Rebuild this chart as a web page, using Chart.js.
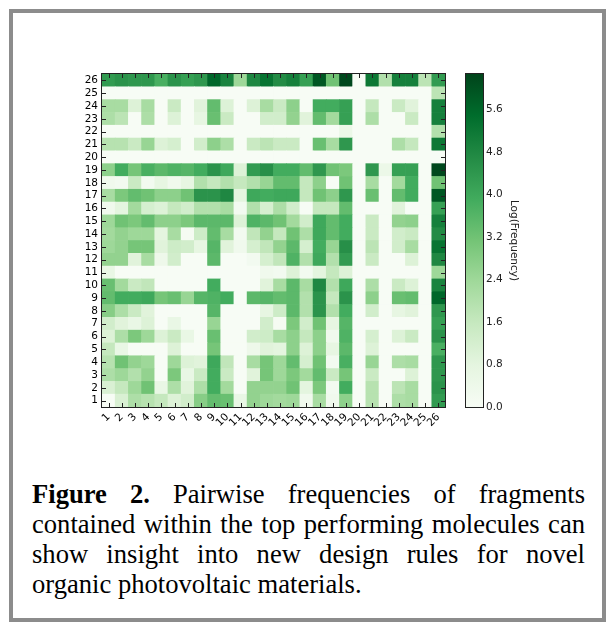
<!DOCTYPE html>
<html>
<head>
<meta charset="utf-8">
<script src="https://cdn.jsdelivr.net/npm/chart.js@4.4.1/dist/chart.umd.min.js"></script>
<style>
  html, body { margin: 0; padding: 0; background: #fff; }
  body { width: 611px; height: 626px; position: relative; overflow: hidden; }
  #frame { position: absolute; left: 9px; top: 9px; width: 589px; height: 605px; border: 4px solid #8c8c8c; }
  #heat { position: absolute; left: 0; top: 0; }
  #bar { position: absolute; left: 440px; top: 0; }
  #caption { position: absolute; left: 32px; top: 479px; width: 553px;
    font-family: 'Liberation Serif', 'Times New Roman', serif; font-size: 26.6px; line-height: 30px; color: #000; }
  #caption div { text-align: justify; text-align-last: justify; white-space: nowrap; }
  #caption div.last { text-align-last: left; }
</style>
</head>
<body>
<div id="frame"></div>
<canvas id="heat" width="460" height="440"></canvas>
<canvas id="bar" width="171" height="440"></canvas>
<div id="caption">
  <div><b>Figure 2.</b> Pairwise frequencies of fragments</div>
  <div>contained within the top performing molecules can</div>
  <div>show insight into new design rules for novel</div>
  <div class="last">organic photovoltaic materials.</div>
</div>
<script>
// fragment ids, both axes
const fragments = ['1','2','3','4','5','6','7','8','9','10','11','12','13',
  '14','15','16','17','18','19','20','21','22','23','24','25','26'];

// Log(Frequency), one row per fragment (row 1 = bottom), columns 1..26
const logFreq = [
  [0,1.1,2.1,1.9,1.6,1.0,1.3,2.8,3.4,3.3,0.6,2.6,2.4,2.3,2.4,0.3,2.2,0.3,2.7,0,1.9,0,2.1,2.2,0,4.3],
  [1.1,1.6,2.4,3.2,0.6,2.1,0.9,2.1,3.9,2.3,0,2.6,2.6,2.6,3.2,0.8,3.0,0.2,3.9,0,1.9,0,1.8,2.2,0,4.5],
  [2.1,2.4,2.0,2.6,0,3.0,0.6,1.5,3.9,1.5,0,0.9,3.1,2.4,3.0,2.3,3.4,1.5,3.1,0,1.5,0,0,1.0,0,4.4],
  [1.9,3.2,2.6,2.4,0,2.4,1.0,0.9,4.0,1.7,0,2.2,3.1,2.4,3.4,1.2,3.2,0.2,3.8,0,2.5,0,2.1,2.2,0,4.4],
  [1.6,0.6,0,0,0,1.0,0,0,3.1,0,0,0.4,0.9,0.8,2.7,1.0,2.7,0.7,3.5,0,1.0,0,0,0,0,3.8],
  [1.0,2.1,3.0,2.4,1.0,1.5,0.6,0,3.3,0,0,1.3,1.4,2.2,2.7,1.6,2.7,0.3,3.7,0,1.2,0,1.0,1.5,0,4.5],
  [1.3,0.9,0.6,1.0,0,0.6,0,0,2.5,0,0,0,1.3,0.1,3.0,1.3,3.2,0.7,3.6,0,0,0,0,0,0,4.2],
  [2.8,2.1,1.5,0.9,0,0,0,0,3.6,0,0,0,0.7,1.4,3.5,2.0,4.5,2.0,3.9,0,1.3,0,0.7,0.9,0,4.4],
  [3.4,3.9,3.9,4.0,3.1,3.3,2.5,3.6,3.7,3.9,0,3.5,3.6,3.4,3.5,2.0,4.5,1.6,4.5,0,2.7,0,3.3,3.4,0,5.6],
  [3.3,2.3,1.5,1.7,0,0,0,0,3.9,0,0,0,0.9,2.2,3.5,2.2,4.8,2.0,4.0,0,2.1,0,1.5,1.0,0,4.9],
  [0.6,0,0,0,0,0,0,0,0,0,0,0,0.3,0.2,1.0,0.2,0.8,1.6,1.0,0,0,0,0,0,0,2.4],
  [2.6,2.6,0.9,2.2,0.4,1.3,0,0,3.5,0,0,0.2,1.2,1.7,3.7,2.0,4.0,2.0,4.3,0,1.5,0,0,1.0,0,4.8],
  [2.4,2.6,3.1,3.1,0.9,1.4,1.3,0.7,3.6,0.9,0.3,1.2,1.7,2.6,3.5,1.2,3.9,2.5,4.6,0,1.8,0,1.3,2.2,0,5.3],
  [2.3,2.6,2.4,2.4,0.8,2.2,0.1,1.4,3.4,2.2,0.2,1.7,2.6,1.6,3.2,2.1,4.0,3.4,3.9,0,1.5,0,1.3,1.5,0,4.7],
  [2.4,3.2,3.0,3.4,2.7,2.7,3.0,3.5,3.5,3.5,1.0,3.7,3.5,3.2,2.3,1.3,4.0,3.4,3.9,0,1.5,0,2.6,2.7,0,5.0],
  [0.3,0.8,2.3,1.2,1.0,1.6,1.3,2.0,2.0,2.2,0.2,2.0,1.2,2.1,1.3,0,1.6,1.6,3.4,0,0,0,0.9,0,0,4.2],
  [2.2,3.0,3.4,3.2,2.7,2.7,3.2,4.5,4.5,4.8,0.8,4.0,3.9,4.0,4.0,1.6,3.2,2.7,4.4,0,3.3,0,3.4,3.9,0,5.9],
  [0.3,0.2,1.5,0.2,0.7,0.3,0.7,2.0,1.6,2.0,1.6,2.0,2.5,3.4,3.4,1.6,2.7,0,3.2,0,2.2,0,2.3,3.9,0,3.2],
  [2.7,3.9,3.1,3.8,3.5,3.7,3.6,3.9,4.5,4.0,1.0,4.3,4.6,3.9,3.9,3.4,4.4,3.2,3.0,0,4.4,0.5,4.2,4.2,0,6.2],
  [0,0,0,0,0,0,0,0,0,0,0,0,0,0,0,0,0,0,0,0,0,0,0,0,0,0],
  [1.9,1.9,1.5,2.5,1.0,1.2,0,1.3,2.7,2.1,0,1.5,1.8,1.5,1.5,0,3.3,2.2,4.4,0,0,0,2.1,1.6,0,5.2],
  [0,0,0,0,0,0,0,0,0,0,0,0,0,0,0,0,0,0,0.5,0,0,0,0,0,0,2.0],
  [2.1,1.8,0,2.1,0,1.0,0,0.7,3.3,1.5,0,0,1.3,1.3,2.6,0.9,3.4,2.3,4.2,0,2.1,0,0,1.5,0,5.0],
  [2.2,2.2,1.0,2.2,0,1.5,0,0.9,3.4,1.0,0,1.0,2.2,1.5,2.7,0,3.9,3.9,4.2,0,1.6,0,1.5,0.9,0,5.0],
  [0,0,0,0,0,0,0,0,0,0,0,0,0,0,0,0,0,0,0,0,0,0,0,0,0,1.8],
  [4.3,4.5,4.4,4.4,3.8,4.5,4.2,4.4,5.6,4.9,2.4,4.8,5.3,4.7,5.0,4.2,5.9,3.2,6.2,0,5.2,2.0,5.0,5.0,1.8,4.3]
];

const vmax = 6.27;
const colorbarTicks = [0, 0.8, 1.6, 2.4, 3.2, 4.0, 4.8, 5.6];

// matplotlib "Greens"
const greens = ['#f7fcf5','#e5f5e0','#c7e9c0','#a1d99b','#74c476','#41ab5d','#238b45','#006d2c','#00441b'];

function rgb(h) {
  return [1, 3, 5].map(i => parseInt(h.slice(i, i + 2), 16));
}
function greenColor(v) {
  const t = Math.max(0, Math.min(1, v / vmax)) * (greens.length - 1);
  const i = Math.min(greens.length - 2, Math.floor(t));
  const f = t - i;
  const a = rgb(greens[i]), b = rgb(greens[i + 1]);
  const c = a.map((x, k) => Math.round(x + (b[k] - x) * f));
  return 'rgb(' + c.join(',') + ')';
}

Chart.defaults.font.family = 'DejaVu Sans';
Chart.defaults.font.size = 10.5;
Chart.defaults.color = '#000';

// black box round the plot area, matplotlib-like inward ticks
const framePlugin = {
  id: 'frame',
  afterDraw(chart, args, opts) {
    const { ctx, chartArea: a } = chart;
    ctx.save();
    ctx.strokeStyle = '#222';
    ctx.lineWidth = 1;
    ctx.strokeRect(a.left - 0.5, a.top - 0.5, a.right - a.left + 1, a.bottom - a.top + 1);
    if (opts.ticks) {
      const xs = chart.scales.x, ys = chart.scales.y;
      ctx.beginPath();
      xs.ticks.forEach((t, i) => {
        const px = Math.round(xs.getPixelForTick(i)) + 0.5;
        ctx.moveTo(px, a.bottom); ctx.lineTo(px, a.bottom - 4);
        ctx.moveTo(px, a.top); ctx.lineTo(px, a.top + 4);
      });
      ys.ticks.forEach((t, i) => {
        const py = Math.round(ys.getPixelForTick(i)) + 0.5;
        ctx.moveTo(a.left, py); ctx.lineTo(a.left + 4, py);
        ctx.moveTo(a.right, py); ctx.lineTo(a.right - 4, py);
      });
      ctx.stroke();
    }
    ctx.restore();
  }
};

const heatData = {
  labels: fragments,
  datasets: logFreq.map((row, r) => ({
    label: fragments[r],
    data: row.map(() => [r + 0.5, r + 1.5]),
    backgroundColor: row.map(greenColor),
    borderWidth: 0,
    barPercentage: 1,
    categoryPercentage: 1
  }))
};

new Chart(document.getElementById('heat'), {
  type: 'bar',
  data: heatData,
  options: {
    responsive: false,
    animation: false,
    devicePixelRatio: 1,
    layout: { padding: { left: 0, top: 74, right: 15, bottom: 0 } },
    datasets: { bar: { grouped: false } },
    plugins: { legend: { display: false }, tooltip: { enabled: false }, frame: { ticks: true } },
    scales: {
      x: {
        grid: { display: false, drawTicks: false },
        border: { display: false },
        ticks: { autoSkip: false, minRotation: 45, maxRotation: 45, padding: 4 },
        afterFit: s => { s.height = 33; }
      },
      y: {
        min: 0.5,
        max: 26.5,
        afterBuildTicks: s => { s.ticks = fragments.map(f => ({ value: Number(f) })); },
        grid: { display: false, drawTicks: false },
        border: { display: false },
        ticks: { autoSkip: false, padding: 4 },
        afterFit: s => { s.width = 102; }
      }
    }
  },
  plugins: [framePlugin]
});

new Chart(document.getElementById('bar'), {
  type: 'bar',
  data: {
    labels: ['Log(Frequency)'],
    datasets: [{
      data: [[0, vmax]],
      backgroundColor: c => {
        const { ctx, chartArea, scales } = c.chart;
        if (!chartArea) return greens[4];
        const y = scales.y;
        const g = ctx.createLinearGradient(0, y.getPixelForValue(0), 0, y.getPixelForValue(vmax));
        greens.forEach((col, i) => g.addColorStop(i / (greens.length - 1), col));
        return g;
      },
      borderWidth: 0,
      barPercentage: 1,
      categoryPercentage: 1
    }]
  },
  options: {
    responsive: false,
    animation: false,
    devicePixelRatio: 1,
    layout: { padding: { left: 26, top: 74, right: 87, bottom: 33 } },
    plugins: { legend: { display: false }, tooltip: { enabled: false }, frame: { ticks: false } },
    scales: {
      x: { display: false },
      y: {
        position: 'right',
        min: 0,
        max: vmax,
        afterBuildTicks: s => { s.ticks = colorbarTicks.map(v => ({ value: v })); },
        grid: { display: false, drawTicks: false },
        border: { display: false },
        ticks: { padding: 3, color: '#222', callback: v => v.toFixed(1) },
        title: { display: true, text: 'Log(Frequency)', color: '#222', padding: { top: 4, bottom: 0 } },
        afterFit: s => { s.width = 41; }
      }
    }
  },
  plugins: [framePlugin]
});
</script>
</body>
</html>
